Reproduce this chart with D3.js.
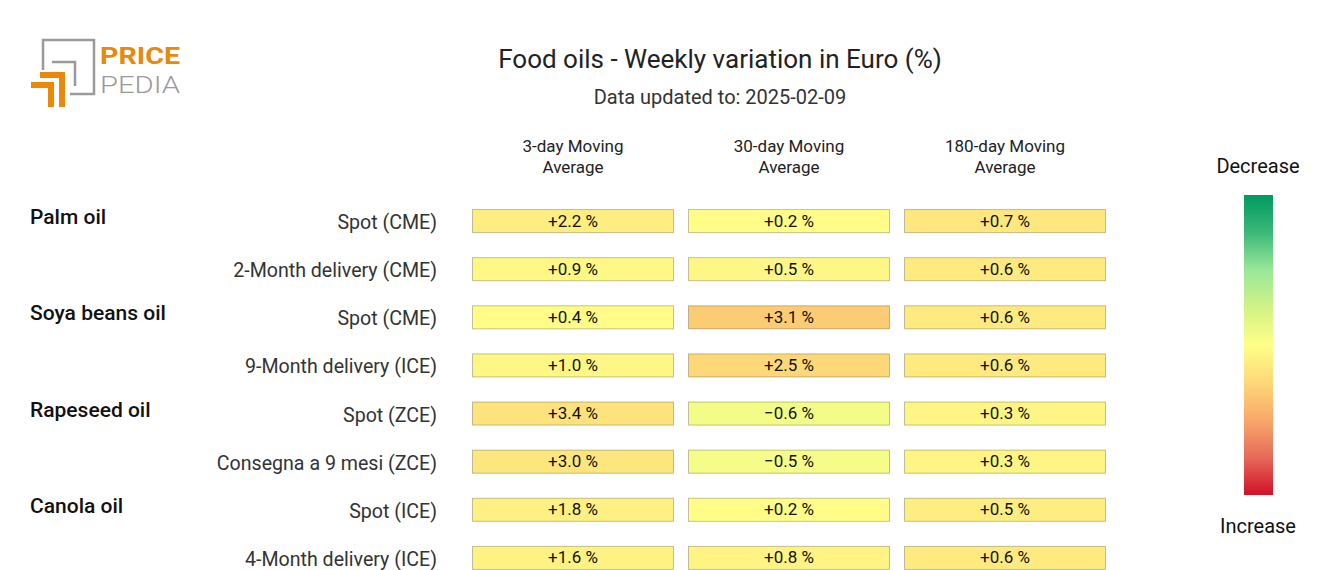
<!DOCTYPE html>
<html>
<head>
<meta charset="utf-8">
<script src="https://cdn.jsdelivr.net/npm/d3@7"></script>
<style>
  html, body { margin: 0; padding: 0; background: #fff; }
  svg { display: block; font-family: Roboto, "Noto Sans", sans-serif; }
</style>
</head>
<body>
<svg id="chart" width="1320" height="570"></svg>
<script>
const title = "Food oils - Weekly variation in Euro (%)";
const subtitle = "Data updated to: 2025-02-09";
const columns = ["3-day Moving Average", "30-day Moving Average", "180-day Moving Average"];
const columnLines = [["3-day Moving", "Average"], ["30-day Moving", "Average"], ["180-day Moving", "Average"]];
const groups = ["Palm oil", "Palm oil", "Soya beans oil", "Soya beans oil", "Rapeseed oil", "Rapeseed oil", "Canola oil", "Canola oil"];
const rows = ["Spot (CME)", "2-Month delivery (CME)", "Spot (CME)", "9-Month delivery (ICE)", "Spot (ZCE)", "Consegna a 9 mesi (ZCE)", "Spot (ICE)", "4-Month delivery (ICE)"];
const ma3 = [2.2, 0.9, 0.4, 1.0, 3.4, 3.0, 1.8, 1.6];
const ma30 = [0.2, 0.5, 3.1, 2.5, -0.6, -0.5, 0.2, 0.8];
const ma180 = [0.7, 0.6, 0.6, 0.6, 0.3, 0.3, 0.5, 0.6];
const series = [ma3, ma30, ma180];
const colorMax = [19, 10, 4.5];
const legendLabels = ["Decrease", "Increase"];
const legendStops = ["#009a60", "#3cb878", "#98e898", "#d2f286", "#ffff88", "#fdd878", "#f9a86a", "#e66a58", "#d0102a"];

const svg = d3.select("#chart");

// ---- Logo ----
const logo = svg.append("g");
const gray = "#9a9a9a", orange = "#e8890c";
logo.append("path").attr("d", "M43,70 V40 H94 V94 H70").attr("fill", "none").attr("stroke", gray).attr("stroke-width", 2.5);
logo.append("path").attr("d", "M52,62 H75 V86").attr("fill", "none").attr("stroke", gray).attr("stroke-width", 2.5);
logo.append("path").attr("d", "M40,72 H65 V107 H59 V78 H40 Z").attr("fill", orange);
logo.append("path").attr("d", "M31,82 H54 V107 H48 V88 H31 Z").attr("fill", orange);
logo.append("text").attr("x", 100).attr("y", 64).attr("font-size", 24).attr("font-weight", 700).attr("fill", orange).attr("textLength", 80).attr("lengthAdjust", "spacingAndGlyphs").text("PRICE");
logo.append("text").attr("x", 100).attr("y", 93).attr("font-size", 24).attr("font-weight", 300).attr("fill", gray).attr("textLength", 80).attr("lengthAdjust", "spacingAndGlyphs").text("PEDIA");

// ---- Title ----
svg.append("text").attr("x", 720).attr("y", 68).attr("text-anchor", "middle").attr("font-size", 26).attr("fill", "#222").text(title);
svg.append("text").attr("x", 720).attr("y", 104).attr("text-anchor", "middle").attr("font-size", 20).attr("fill", "#333").text(subtitle);

// ---- Scales ----
const x = d3.scaleBand().domain(columns).range([472, 1106]).paddingInner(14 / 216).paddingOuter(0);
const y = d3.scaleBand().domain(d3.range(rows.length)).range([185, 594]).padding(0.5);

const stopScale = d3.scaleLinear()
  .domain(d3.range(legendStops.length).map(i => -1 + 2 * i / (legendStops.length - 1)))
  .range(legendStops)
  .interpolate(d3.interpolateRgb)
  .clamp(true);
const colorScales = colorMax.map(m => v => stopScale(v / m));

// ---- Column headers ----
columns.forEach((c, ci) => {
  const t = svg.append("text").attr("text-anchor", "middle").attr("font-size", 17).attr("fill", "#222");
  columnLines[ci].forEach((ln, li) => {
    t.append("tspan").attr("x", x(c) + x.bandwidth() / 2).attr("y", 152 + li * 21).text(ln);
  });
});

// ---- Row labels ----
svg.append("g").selectAll("text").data(rows).join("text")
  .attr("x", 437).attr("y", (d, i) => y(i) + y.bandwidth() / 2 + 8)
  .attr("text-anchor", "end").attr("font-size", 19.6).attr("fill", "#333")
  .text(d => d);

svg.append("g").selectAll("text").data(groups.map((g, i) => ({ g, i })).filter(d => d.i === 0 || groups[d.i - 1] !== d.g)).join("text")
  .attr("x", 30).attr("y", d => y(d.i) + y.bandwidth() / 2 + 3)
  .attr("font-size", 21).attr("font-weight", 500).attr("fill", "#111")
  .text(d => d.g);

// ---- Cells ----
const fmt = v => (v >= 0 ? "+" : "\u2212") + Math.abs(v).toFixed(1) + " %";
columns.forEach((c, ci) => {
  const g = svg.append("g");
  const data = series[ci].map((v, i) => ({ v, i }));
  g.selectAll("rect").data(data).join("rect")
    .attr("x", x(c) + 0.5).attr("y", d => y(d.i) + 0.5)
    .attr("width", x.bandwidth() - 1).attr("height", y.bandwidth() - 1)
    .attr("fill", d => colorScales[ci](d.v))
    .attr("stroke", "rgba(0,0,0,0.24)").attr("stroke-width", 1);
  g.selectAll("text").data(data).join("text")
    .attr("x", x(c) + x.bandwidth() / 2).attr("y", d => y(d.i) + y.bandwidth() / 2 + 5.5)
    .attr("text-anchor", "middle").attr("font-size", 17).attr("fill", "#111")
    .text(d => fmt(d.v));
});

// ---- Legend ----
const defs = svg.append("defs");
const grad = defs.append("linearGradient").attr("id", "lg").attr("x1", 0).attr("y1", 1).attr("x2", 0).attr("y2", 0);
legendStops.forEach((s, i) => {
  grad.append("stop").attr("offset", i / (legendStops.length - 1)).attr("stop-color", legendStops[legendStops.length - 1 - i]);
});
const ly = d3.scaleLinear().domain([1, -1]).range([195, 495]);
svg.append("rect").attr("x", 1244).attr("y", ly(1)).attr("width", 29).attr("height", ly(-1) - ly(1)).attr("fill", "url(#lg)");
svg.append("text").attr("x", 1258).attr("y", 173).attr("text-anchor", "middle").attr("font-size", 20).attr("fill", "#111").text(legendLabels[0]);
svg.append("text").attr("x", 1258).attr("y", 533).attr("text-anchor", "middle").attr("font-size", 20).attr("fill", "#111").text(legendLabels[1]);
</script>
</body>
</html>
